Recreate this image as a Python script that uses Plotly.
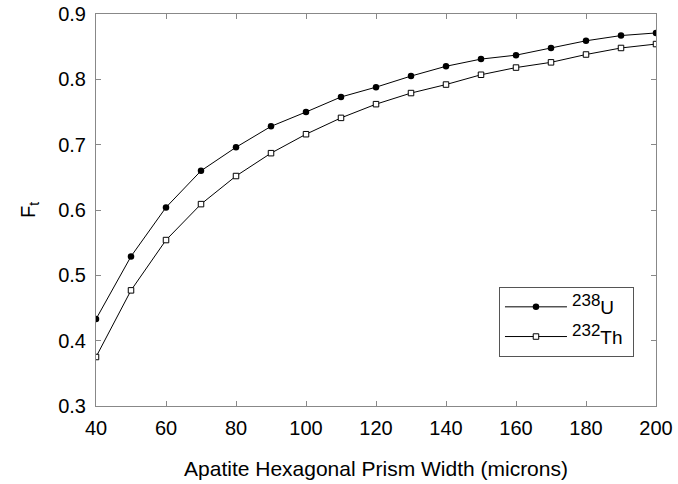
import plotly.graph_objects as go

width = [40, 50, 60, 70, 80, 90, 100, 110, 120, 130, 140, 150, 160, 170, 180, 190, 200]
ft_u238 = [0.433, 0.529, 0.604, 0.660, 0.696, 0.728, 0.750, 0.773, 0.788, 0.805, 0.820,
           0.831, 0.837, 0.848, 0.859, 0.867, 0.871]
ft_th232 = [0.375, 0.477, 0.554, 0.609, 0.652, 0.687, 0.716, 0.741, 0.762, 0.779, 0.792,
            0.807, 0.818, 0.826, 0.838, 0.848, 0.854]

xticks = [40, 60, 80, 100, 120, 140, 160, 180, 200]
yticks = [0.3, 0.4, 0.5, 0.6, 0.7, 0.8, 0.9]

FONT = "Liberation Sans, Arial, sans-serif"

fig = go.Figure()
fig.add_trace(go.Scatter(
    x=width, y=ft_u238, mode="lines+markers",
    name="<sup><span style='font-size:17px'>238</span></sup>U&nbsp;",
    legendgroup="u",
    line=dict(color="black", width=1),
    marker=dict(symbol="circle", size=6.5, color="black"),
))
fig.add_trace(go.Scatter(
    x=width, y=ft_th232, mode="lines+markers",
    name="<sup><span style='font-size:17px'>232</span></sup>Th&nbsp;",
    legendgroup="th",
    line=dict(color="black", width=1),
    marker=dict(symbol="square", size=5.5, color="white", line=dict(color="black", width=1)),
))

axis_common = dict(
    showline=True, linecolor="#888888", linewidth=1, mirror="ticks",
    ticks="inside", ticklen=5, tickcolor="#888888", showgrid=False, zeroline=False,
    tickfont=dict(family=FONT, size=20, color="black"), automargin=False,
    ticklabeloverflow="allow",
)

fig.update_xaxes(
    range=[40, 200], tickvals=xticks, ticktext=[str(v) for v in xticks],
    ticklabelstandoff=4,
    title=dict(text="Apatite Hexagonal Prism Width (microns)",
               font=dict(family=FONT, size=21, color="black"),
               standoff=23),
    **axis_common,
)
fig.update_yaxes(
    range=[0.3, 0.9], tickvals=yticks, ticktext=[f"{v:.1f}" for v in yticks],
    ticklabelstandoff=5,
    title=dict(text="F<sub>t</sub>",
               font=dict(family=FONT, size=20, color="black"),
               standoff=17),
    **axis_common,
)

fig.update_layout(
    width=678, height=484,
    margin=dict(l=96, r=22, t=14, b=78),
    plot_bgcolor="white", paper_bgcolor="white",
    showlegend=True,
    legend=dict(
        x=0.7196, y=0.3036, xanchor="left", yanchor="top",
        bordercolor="#555555", borderwidth=1, bgcolor="white",
        font=dict(family=FONT, size=19, color="black"),
        itemwidth=62, tracegroupgap=2,
    ),
)

# remove the browser's default 8px page margin so the figure fills the window
fig.write_html("out.html", config={"displayModeBar": False},
               post_script="document.body.style.margin='0px';")
